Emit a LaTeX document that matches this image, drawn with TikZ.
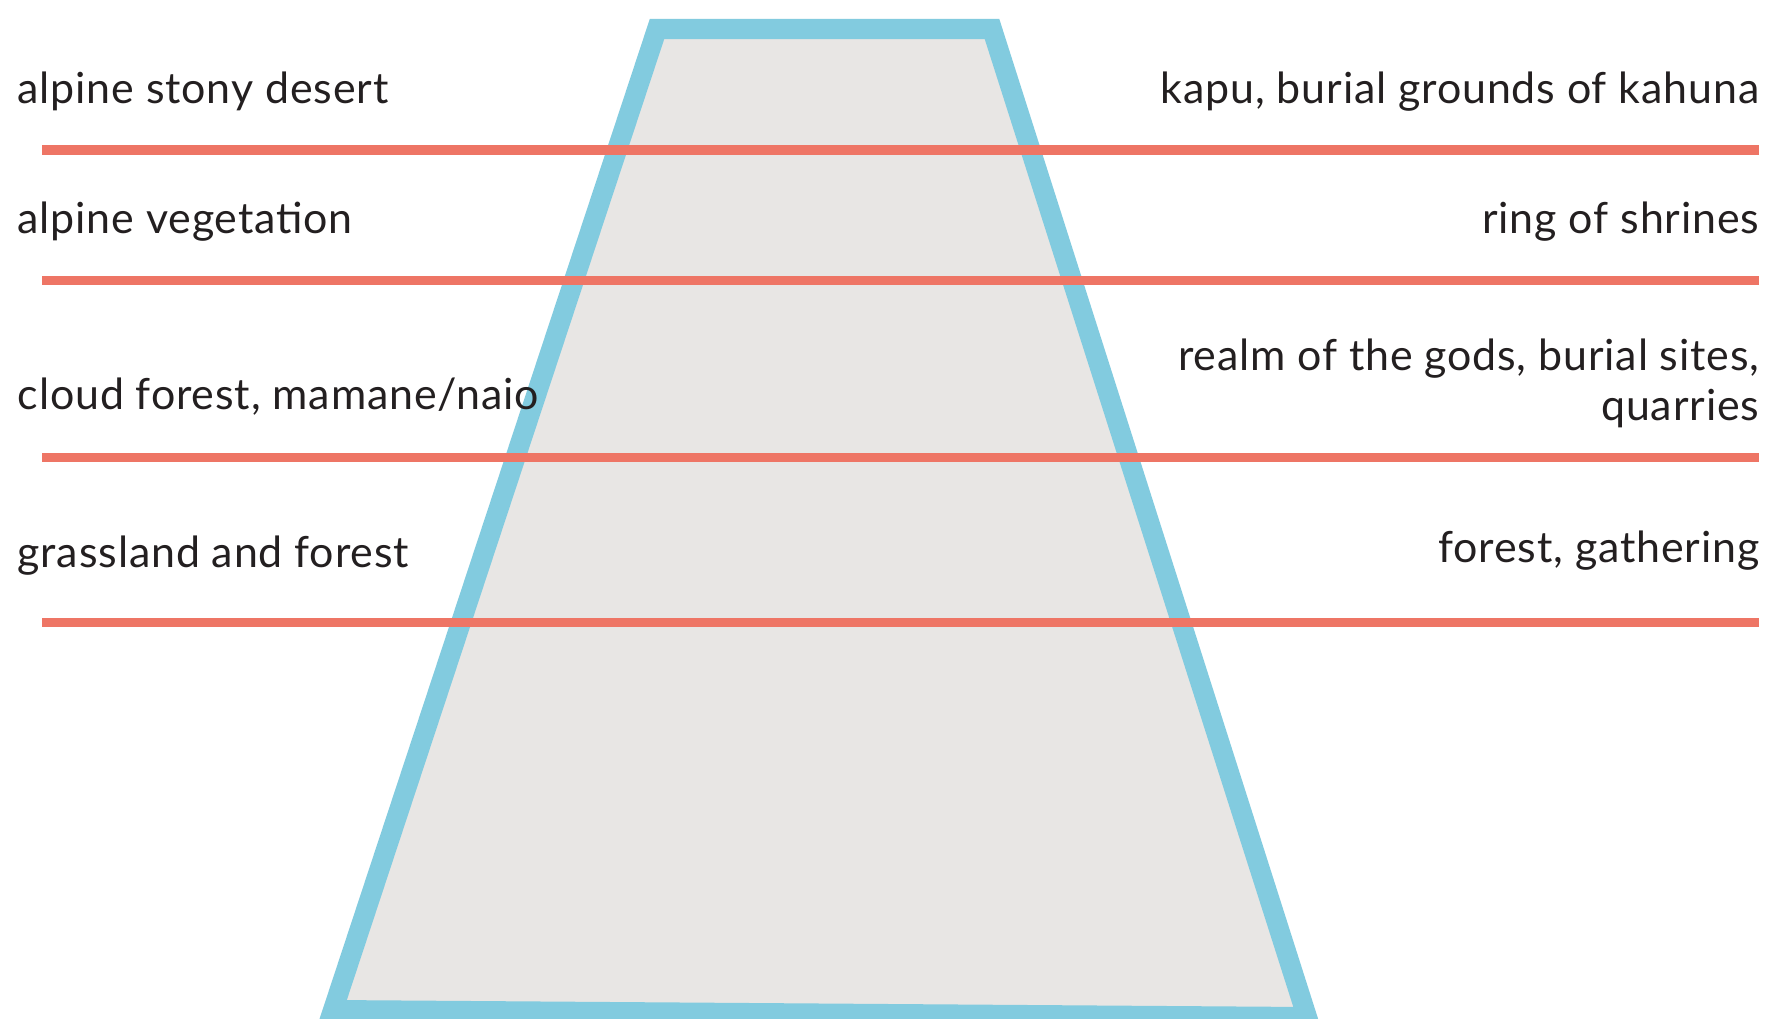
\documentclass[tikz,border=0pt]{standalone}
\usepackage{fontspec}
\setmainfont{Lato}[LetterSpace=2.0]
\usepackage{tikz}

\definecolor{slopeblue}{HTML}{82CBDF}
\definecolor{rockgrey}{HTML}{E8E6E4}
\definecolor{zonered}{HTML}{EE7565}
\definecolor{inkdark}{HTML}{231F20}

\tikzset{
  zone/.style={anchor=base west, inner sep=0pt, text=inkdark, font=\fontsize{12.2pt}{14pt}\selectfont},
  use/.style={anchor=base east, inner sep=0pt, text=inkdark, font=\fontsize{12.2pt}{14pt}\selectfont},
  belt/.style={draw=zonered, line width=0.09cm},
  mountain/.style={draw=slopeblue, fill=rockgrey, line width=0.2cm, line join=miter}
}

\begin{document}
\begin{tikzpicture}[x=0.01cm, y=-0.01cm]
    \useasboundingbox (0,0) rectangle (1782,1018);
    \clip (0,0) rectangle (1782,1018);
    \fill[white] (0,0) rectangle (1782,1018);
    % the mountain
    \draw[mountain] (657,29) -- (992,29) -- (1307,1017) -- (333,1010) -- cycle;
    % zone borders
    \coordinate (b1w) at (42,150);
    \coordinate (b1e) at (1759,150);
    \coordinate (b2w) at (42,280);
    \coordinate (b2e) at (1759,280);
    \coordinate (b3w) at (42,457);
    \coordinate (b3e) at (1759,457);
    \coordinate (b4w) at (42,622);
    \coordinate (b4e) at (1759,622);
    \draw[belt] (b1w) -- (b1e);
    \draw[belt] (b2w) -- (b2e);
    \draw[belt] (b3w) -- (b3e);
    \draw[belt] (b4w) -- (b4e);
    % vegetation
    \node[zone] (desert) at (17,103) {alpine stony desert};
    \node[zone] (alpine) at (17,233) {alpine vegetation};
    \node[zone] (cloud) at (17,409) {cloud forest, mamane/naio};
    \node[zone] (grass) at (17,567) {grassland and forest};
    % uses
    \node[use] (kapu) at (1760,103) {kapu, burial grounds of kahuna};
    \node[use] (shrines) at (1760,233) {ring of shrines};
    \node[use] (realm) at (1760,370) {realm of the gods, burial sites,};
    \node[use] (quarries) at (1760,420) {quarries};
    \node[use] (gather) at (1760,562) {forest, gathering};
\end{tikzpicture}
\end{document}
